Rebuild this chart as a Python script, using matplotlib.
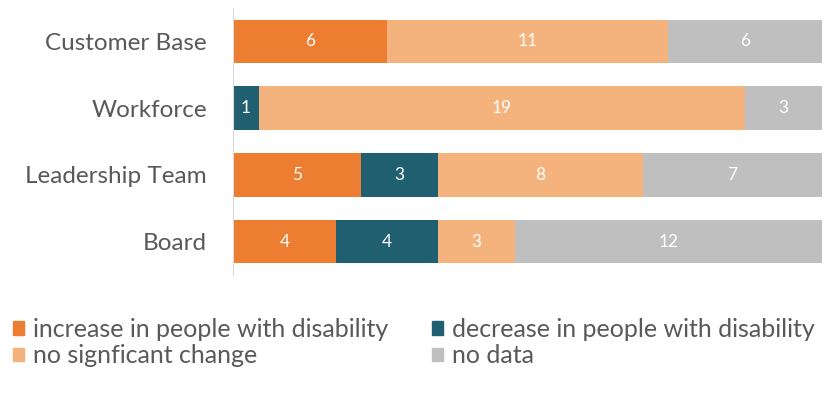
import matplotlib.pyplot as plt
from matplotlib.patches import Patch

plt.rcParams['font.family'] = ['Lato', 'DejaVu Sans']

# data, bottom bar first
categories = ['Board', 'Leadership Team', 'Workforce', 'Customer Base']
increase = [4, 5, 0, 6]
decrease = [4, 3, 1, 0]
no_change = [3, 8, 19, 11]
no_data = [12, 7, 3, 6]

series_names = ['increase in people with disability', 'decrease in people with disability',
                'no signficant change', 'no data']
series_colors = ['#ED7D31', '#1F5F70', '#F4B27C', '#BFBFBF']

fig = plt.figure(figsize=(8.36, 3.97), dpi=100)
ax = fig.add_axes([0.279, 0.307, 0.704, 0.673])

left = [0] * len(categories)
for vals, color in zip([increase, decrease, no_change, no_data], series_colors):
    bars = ax.barh(categories, vals, left=left, color=color, height=0.65)
    for bar, v in zip(bars, vals):
        if v > 0:
            ax.text(bar.get_x() + bar.get_width() / 2, bar.get_y() + bar.get_height() / 2,
                    str(v), ha='center', va='center', color='white', fontsize=12.5)
    left = [l + v for l, v in zip(left, vals)]

ax.set_xlim(0, 23)
ax.set_ylim(-0.5, 3.5)
ax.set_xticks([])
for side in ['top', 'right', 'bottom']:
    ax.spines[side].set_visible(False)
ax.spines['left'].set_color('#D9D9D9')
ax.tick_params(axis='y', length=0, pad=19, labelsize=17.5, labelcolor='#595959')

handles = [Patch(color=c) for c in series_colors]
order = [0, 2, 1, 3]
fig.legend([handles[i] for i in order], [series_names[i] for i in order],
           ncol=2, loc='center left', bbox_to_anchor=(0.006, 0.137), frameon=False,
           fontsize=18, labelcolor='#595959', handlelength=0.45, handleheight=0.45,
           handletextpad=0.35, columnspacing=1.75, labelspacing=0.15,
           borderpad=0.0, borderaxespad=0.3)

fig.savefig('out.png', dpi=100)
